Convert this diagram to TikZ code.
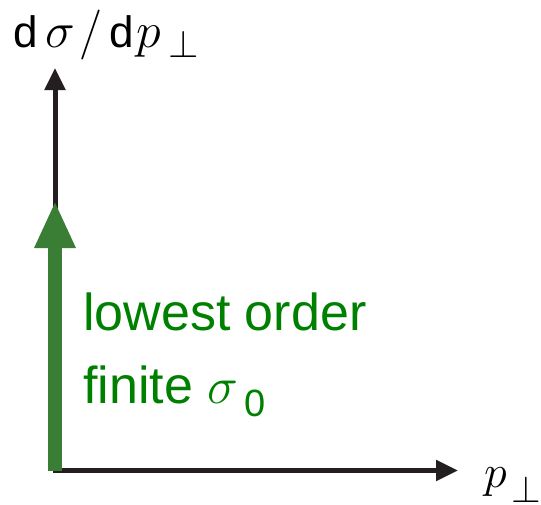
\RequirePackage{fix-cm}
\documentclass[tikz,border=0pt]{standalone}
\usepackage{fontspec}
\setmainfont{Liberation Sans}
\usetikzlibrary{arrows.meta}
\definecolor{arrowgreen}{RGB}{58,125,52}
\definecolor{textgreen}{RGB}{0,128,0}
\definecolor{axisblack}{RGB}{35,31,32}
\newcommand{\dsym}{{\fontsize{44}{48}\selectfont d}}
\newcommand{\perpsub}[2]{\raisebox{#1}{\fontsize{#2}{#2}\selectfont$\perp$}}
\tikzset{
  axis/.style={line width=5pt, draw=axisblack, -{Triangle[length=22pt,width=20pt]}},
  greenarrow/.style={line width=14pt, draw=arrowgreen, -{Triangle[length=47pt,width=38pt]}},
  axislabel/.style={anchor=base west, inner sep=0pt, font=\fontsize{50}{54}\selectfont},
  greenlabel/.style={anchor=base west, inner sep=0pt, text=textgreen, font=\fontsize{52}{60}\selectfont}
}
\begin{document}
\begin{tikzpicture}[x=1pt,y=-1pt]
\useasboundingbox (0,0) rectangle (541,504);
\coordinate (xstart) at (52.5,470.5);
\coordinate (xend) at (458,470.5);
\coordinate (ystart) at (55,473);
\coordinate (yend) at (55,68);
\coordinate (gstart) at (55,471);
\coordinate (gend) at (55,201);
\draw[axis] (xstart) -- (xend);
\draw[axis] (ystart) -- (yend);
\draw[greenarrow] (gstart) -- (gend);
\node[axislabel] (ylabel) at (13,47) {\dsym\kern8pt$\sigma\kern4pt/$\kern7pt\dsym\kern3pt$p$\kern7pt\perpsub{-10pt}{39}};
\node[axislabel, font=\fontsize{46}{50}\selectfont] (xlabel) at (484,487) {$p$\kern5pt\perpsub{-15pt}{38}};
\node[greenlabel] (line1) at (83,330) {lowest order};
\node[greenlabel] (line2) at (83,403) {finite $\sigma$\kern6pt\raisebox{-13pt}{\fontsize{38}{40}\selectfont 0}};
\end{tikzpicture}
\end{document}
